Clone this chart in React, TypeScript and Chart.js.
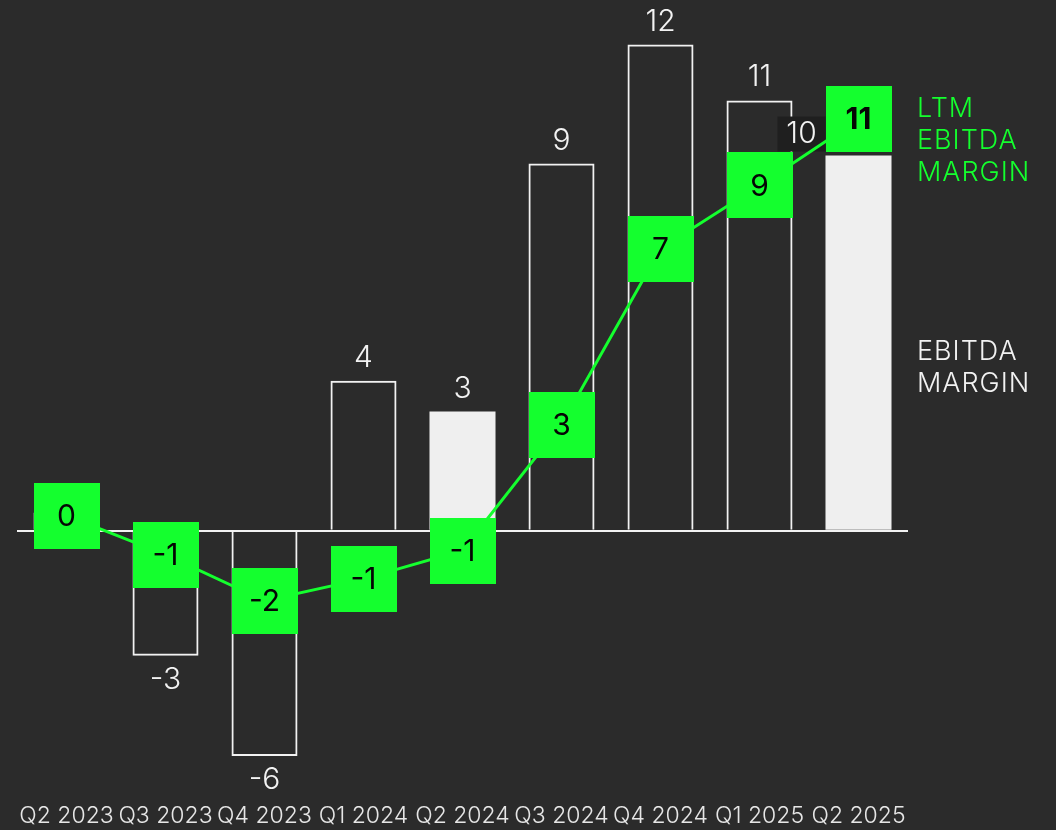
import React, { useEffect, useRef } from "react";
import { Chart, registerables } from "chart.js";

Chart.register(...registerables);

const categories = ["Q2 2023", "Q3 2023", "Q4 2023", "Q1 2024", "Q2 2024", "Q3 2024", "Q4 2024", "Q1 2025", "Q2 2025"];
const ebitdaMargin = [0.45, -3.09, -5.56, 3.7, 2.94, 9.06, 12.0, 10.62, 9.26];
const ebitdaLabels = ["", "-3", "-6", "4", "3", "9", "12", "11", "10"];
const ltmMargin = [0.37, -0.59, -1.73, -1.19, -0.49, 2.62, 6.96, 8.52, 10.15];
const ltmLabels = ["0", "-1", "-2", "-1", "-1", "3", "7", "9", "11"];
const filledBars = [false, false, false, false, true, false, false, false, true];

const BG = "#2b2b2b";
const GREEN = "#14ff2e";
const WHITE = "#f2f2f2";
const FONT = "Inter, 'Noto Sans', sans-serif";

function makeSquare(size: number, color: string) {
  const c = document.createElement("canvas");
  c.width = size;
  c.height = size;
  const g = c.getContext("2d")!;
  g.fillStyle = color;
  g.fillRect(0, 0, size, size);
  return c;
}

export default function App() {
  const ref = useRef<HTMLCanvasElement>(null);

  useEffect(() => {
    const canvas = ref.current!;
    const square = makeSquare(66, GREEN);
    const labelPlugin = {
      id: "labels",
      afterDatasetDraw(chart: any, args: any) {
        if (args.index !== 0) return;
        const ctx = chart.ctx;
        const meta = chart.getDatasetMeta(0);
        ctx.save();
        ctx.font = `300 30px ${FONT}`;
        ctx.textAlign = "center";
        ctx.textBaseline = "middle";
        meta.data.forEach((el: any, i: number) => {
          const text = ebitdaLabels[i];
          if (!text) return;
          const v = ebitdaMargin[i];
          const top = Math.min(el.y, el.base);
          const bottom = Math.max(el.y, el.base);
          const y = v >= 0 ? top - 23 : bottom + 24;
          if (i === categories.length - 1) {
            ctx.fillStyle = "#1f1f1f";
            ctx.fillRect(el.x - 81, y - 16, 48, 35);
            ctx.fillStyle = WHITE;
            ctx.fillText(text, el.x - 57, y + 1);
          } else {
            ctx.fillStyle = WHITE;
            ctx.fillText(text, el.x, y);
          }
        });
        ctx.restore();
      },
      afterDatasetsDraw(chart: any) {
        const ctx = chart.ctx;
        const meta = chart.getDatasetMeta(1);
        ctx.save();
        ctx.textAlign = "center";
        ctx.textBaseline = "middle";
        meta.data.forEach((el: any, i: number) => {
          const last = i === categories.length - 1;
          ctx.font = last ? `700 30px ${FONT}` : `400 30px ${FONT}`;
          ctx.fillStyle = "#050505";
          ctx.fillText(ltmLabels[i], el.x, el.y + 1);
        });
        // legend text
        ctx.textAlign = "left";
        ctx.font = `300 27px ${FONT}`;
        try { (ctx as any).letterSpacing = "1px"; } catch (e) {}
        ctx.fillStyle = GREEN;
        ["LTM", "EBITDA", "MARGIN"].forEach((t, k) => ctx.fillText(t, 917, 109 + k * 32));
        ctx.fillStyle = WHITE;
        ["EBITDA", "MARGIN"].forEach((t, k) => ctx.fillText(t, 917, 352 + k * 32));
        ctx.restore();
      },
    };

    const chart = new Chart(canvas, {
      type: "bar",
      data: {
        labels: categories,
        datasets: [
          {
            type: "bar",
            label: "EBITDA MARGIN",
            data: ebitdaMargin,
            order: 1,
            backgroundColor: filledBars.map((f) => (f ? "#efefef" : "rgba(0,0,0,0)")),
            borderColor: WHITE,
            borderWidth: filledBars.map((f) => (f ? 0 : 2)),
            borderSkipped: "start",
            barPercentage: 0.667,
            categoryPercentage: 1,
          },
          {
            type: "line",
            label: "LTM EBITDA MARGIN",
            data: ltmMargin,
            order: 0,
            borderColor: GREEN,
            borderWidth: 3,
            tension: 0,
            pointStyle: square,
            pointRadius: 1,
            pointHoverRadius: 1,
            pointBackgroundColor: GREEN,
            pointBorderWidth: 0,
            clip: false,
          } as any,
        ],
      },
      options: {
        responsive: false,
        devicePixelRatio: 1,
        animation: false,
        events: [],
        layout: { padding: { left: 17, right: 148, top: 4, bottom: 0 } },
        plugins: { legend: { display: false }, tooltip: { enabled: false } },
        scales: {
          x: {
            grid: { display: false, drawTicks: false },
            border: { display: false },
            ticks: { color: "#e6e6e6", font: { family: FONT, size: 23, weight: 300 as any }, padding: 8, maxRotation: 0, autoSkip: false },
            afterFit: (s: any) => { s.height = 36; s.paddingLeft = 0; s.paddingRight = 0; },
          },
          y: {
            min: -6.5,
            max: 13,
            grid: {
              color: (c: any) => (c.tick && c.tick.value === 0 ? WHITE : "rgba(0,0,0,0)"),
              lineWidth: 2,
              drawTicks: false,
            },
            border: { display: false },
            ticks: { display: false, stepSize: 0.5 },
            afterFit: (s: any) => { s.width = 0; },
          },
        },
      },
      plugins: [labelPlugin],
    });
    return () => chart.destroy();
  }, []);

  return (
    <div style={{ position: "fixed", left: 0, top: 0, width: 1056, height: 830, background: BG }}>
      <canvas ref={ref} width={1056} height={830} style={{ display: "block" }} />
    </div>
  );
}
